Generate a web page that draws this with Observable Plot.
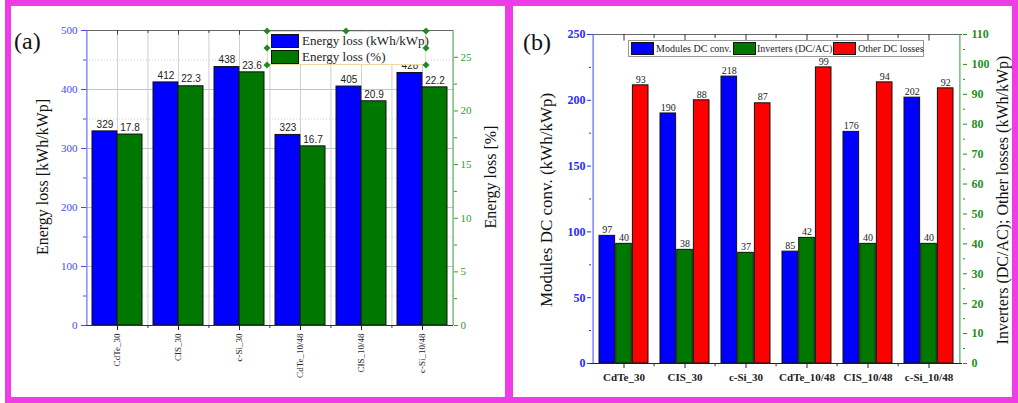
<!DOCTYPE html>
<html><head><meta charset="utf-8">
<script src="https://cdn.jsdelivr.net/npm/d3@7"></script>
<script src="https://cdn.jsdelivr.net/npm/@observablehq/plot@0.6"></script>
<style>
body{margin:0;background:#fff;}
#page{position:relative;width:1018px;height:403px;overflow:hidden;font-family:"Liberation Serif","DejaVu Serif",serif;background:#fff;}
.panel{position:absolute;border:6px solid #f03ce6;box-sizing:border-box;pointer-events:none;z-index:5;}
.chart{position:absolute;top:0;}
.lbl{position:absolute;white-space:nowrap;transform:translate(-50%,-50%) rotate(-90deg);transform-origin:center;color:#111;z-index:3;font-family:"Liberation Serif",serif;}
.tag{position:absolute;font-size:24px;color:#111;z-index:3;font-family:"Liberation Serif",serif;}
.legend{position:absolute;background:#fff;z-index:4;box-sizing:border-box;}
.sw{position:absolute;border:1px solid #111;box-sizing:border-box;}
.lt{position:absolute;white-space:nowrap;color:#222;font-family:"Liberation Serif",serif;}
.h{position:absolute;width:5px;height:5px;background:#1f8a1f;transform:translate(-50%,-50%) rotate(45deg);}
</style>
</head><body>
<div id="page"></div>
<script>
// ---------- data: panel (a) ----------
const catsA = ["CdTe_30","CIS_30","c-Si_30","CdTe_10/48","CIS_10/48","c-Si_10/48"];
const lossKwh = [329,412,438,323,405,428];
const lossPct = [17.8,22.3,23.6,16.7,20.9,22.2];
const leftTicksA = [0,100,200,300,400,500];
const leftMinorA = [50,150,250,350,450];
const rightTicksA = [0,5,10,15,20,25];
const rightMinorA = [2.5,7.5,12.5,17.5,22.5];
const seriesA = ["Energy loss (kWh/kWp)","Energy loss (%)"];

// ---------- data: panel (b) ----------
const catsB = ["CdTe_30","CIS_30","c-Si_30","CdTe_10/48","CIS_10/48","c-Si_10/48"];
const modulesDC = [97,190,218,85,176,202];
const inverters = [40,38,37,42,40,40];
const otherDC = [93,88,87,99,94,92];
const leftTicksB = [0,50,100,150,200,250];
const leftMinorB = [25,75,125,175,225];
const rightTicksB = [0,10,20,30,40,50,60,70,80,90,100,110];
const rightMinorB = [5,15,25,35,45,55,65,75,85,95,105];
const seriesB = ["Modules DC conv.","Inverters (DC/AC)","Other DC losses"];

const BLUE="#0000ff", GREEN="#007800", RED="#ff0000";
const SERIF='"Liberation Serif", "DejaVu Serif", serif';
const SANS='"Liberation Sans", Arial, sans-serif';
const page = document.getElementById("page");

function place(el, left){ el.classList.add("chart"); el.style.left = left+"px"; page.appendChild(el); }

// ---------- panel (a) ----------
{
  const W=505,H=400,mL=86,mR=52,mT=30,mB=75, yMax=500, y2Max=27.5, pi=0.18, po=0.09;
  const n=catsA.length;
  const step=(W-mL-mR)/(n-pi+2*po), bw=step*(1-pi), edge=po*step+bw/2;
  const to = v => v*yMax/y2Max;
  const rows = catsA.map((c,i)=>({cat:c,kwh:lossKwh[i],pct:lossPct[i]}));
  const mids = catsA.slice(1);
  const ax = {fontFamily:SERIF, label:null};
  const svg = Plot.plot({
    width:W, height:H, marginLeft:mL, marginRight:mR, marginTop:mT, marginBottom:mB,
    style:{background:"transparent", fontFamily:SERIF, overflow:"visible"},
    x:{type:"band", domain:catsA, paddingInner:pi, paddingOuter:po, axis:null},
    y:{domain:[0,yMax], axis:null},
    marks:[
      Plot.gridY(leftMinorA,{stroke:"#d0d0d0", strokeOpacity:1, strokeDasharray:"1,2"}),
      Plot.gridY(leftTicksA.slice(1,-1),{stroke:"#c4c4c4", strokeOpacity:1}),
      Plot.ruleX(catsA,{x:d=>d, stroke:"#cfcfcf"}),
      Plot.ruleX(mids,{x:d=>d, dx:-step/2, stroke:"#cfcfcf"}),
      Plot.barY(rows,{x:"cat", y:"kwh", fill:BLUE, stroke:"#111", strokeWidth:1, insetRight:bw/2}),
      Plot.barY(rows,{x:"cat", y:d=>to(d.pct), fill:GREEN, stroke:"#111", strokeWidth:1, insetLeft:bw/2}),
      Plot.text(rows,{x:"cat", y:"kwh", text:d=>String(d.kwh), dx:-bw/4, dy:-7, fontSize:10, fontFamily:SANS, fill:"#222"}),
      Plot.text(rows,{x:"cat", y:d=>to(d.pct), text:d=>d.pct.toFixed(1), dx:bw/4, dy:-7, fontSize:10, fontFamily:SANS, fill:"#222"}),
      // frame lines
      Plot.ruleY([yMax],{stroke:"#666"}),
      Plot.ruleY([0],{stroke:"#333"}),
      Plot.ruleX([catsA[0]],{x:d=>d, dx:-edge, stroke:"#5050ff"}),
      Plot.ruleX([catsA[n-1]],{x:d=>d, dx:edge, stroke:"#3a9a3a"}),
      // top inner ticks
      Plot.ruleX(catsA,{x:d=>d, y1:yMax, y2:yMax-8, stroke:"#444"}),
      Plot.ruleX(mids,{x:d=>d, dx:-step/2, y1:yMax, y2:yMax-5, stroke:"#444"}),
      // bottom minor ticks
      Plot.ruleX(mids,{x:d=>d, dx:-step/2, y1:0, y2:-5, stroke:"#333"}),
      Plot.axisX({...ax, anchor:"bottom", tickSize:5, tickPadding:3, tickRotate:-90, fontSize:9, color:"#222"}),
      Plot.axisY({...ax, ticks:leftTicksA, anchor:"left", tickSize:5, tickPadding:4, fontSize:11, color:"#4646ff"}),
      Plot.axisY({...ax, ticks:leftMinorA, anchor:"left", tickSize:3, tickFormat:()=>"", color:"#4646ff"}),
      Plot.axisY({...ax, ticks:rightTicksA.map(to), anchor:"right", tickSize:4, tickPadding:3, fontSize:11, color:"#2f9a2f",
        tickFormat:d=>String(Math.round(d*y2Max/yMax))}),
      Plot.axisY({...ax, ticks:rightMinorA.map(to), anchor:"right", tickSize:3, tickFormat:()=>"", color:"#2f9a2f"})
    ]
  });
  place(svg, 0);
}

// ---------- panel (b) ----------
{
  const left=508, W=510,H=400,mL=83,mR=56,mT=34,mB=37, yMax=250, y2Max=110, pi=0.19, po=0.095;
  const n=catsB.length;
  const step=(W-mL-mR)/(n-pi+2*po), bw=step*(1-pi), edge=po*step+bw/2;
  const to = v => v*yMax/y2Max;
  const rows = catsB.map((c,i)=>({cat:c,mod:modulesDC[i],inv:inverters[i],oth:otherDC[i]}));
  const mids = catsB.slice(1);
  const ax = {fontFamily:SERIF, label:null};
  const lab = {fontSize:10, fontFamily:SERIF, fill:"#222", dy:-6};
  const svg = Plot.plot({
    width:W, height:H, marginLeft:mL, marginRight:mR, marginTop:mT, marginBottom:mB,
    style:{background:"transparent", fontFamily:SERIF, overflow:"visible"},
    x:{type:"band", domain:catsB, paddingInner:pi, paddingOuter:po, axis:null},
    y:{domain:[0,yMax], axis:null},
    marks:[
      Plot.barY(rows,{x:"cat", y:"mod", fill:BLUE, stroke:"#111", strokeWidth:1, insetRight:2*bw/3}),
      Plot.barY(rows,{x:"cat", y:d=>to(d.inv), fill:GREEN, stroke:"#111", strokeWidth:1, insetLeft:bw/3, insetRight:bw/3}),
      Plot.barY(rows,{x:"cat", y:d=>to(d.oth), fill:RED, stroke:"#111", strokeWidth:1, insetLeft:2*bw/3}),
      Plot.text(rows,{x:"cat", y:"mod", text:d=>String(d.mod), dx:-bw/3, ...lab}),
      Plot.text(rows,{x:"cat", y:d=>to(d.inv), text:d=>String(d.inv), ...lab}),
      Plot.text(rows,{x:"cat", y:d=>to(d.oth), text:d=>String(d.oth), dx:bw/3, ...lab}),
      Plot.ruleY([yMax],{stroke:"#666"}),
      Plot.ruleY([0],{stroke:"#222"}),
      Plot.ruleX([catsB[0]],{x:d=>d, dx:-edge, stroke:"#4040ff"}),
      Plot.ruleX([catsB[n-1]],{x:d=>d, dx:edge, stroke:"#2f9a2f"}),
      Plot.ruleX(catsB,{x:d=>d, y1:yMax, y2:yMax-5, stroke:"#333"}),
      Plot.ruleX(mids,{x:d=>d, dx:-step/2, y1:yMax, y2:yMax-3, stroke:"#333"}),
      Plot.ruleX(mids,{x:d=>d, dx:-step/2, y1:0, y2:-2.5, stroke:"#333"}),
      Plot.axisX({...ax, anchor:"bottom", tickSize:5, tickPadding:5, fontSize:11, fontWeight:"bold", color:"#222"}),
      Plot.axisY({...ax, ticks:leftTicksB, anchor:"left", tickSize:4, tickPadding:2, fontSize:12, fontWeight:"bold", color:"#2a2aff"}),
      Plot.axisY({...ax, ticks:leftMinorB, anchor:"left", tickSize:2, tickFormat:()=>"", color:"#2a2aff"}),
      Plot.axisY({...ax, ticks:rightTicksB.map(to), anchor:"right", tickSize:4, tickPadding:5, fontSize:12, fontWeight:"bold", color:"#1f8f1f",
        tickFormat:d=>String(Math.round(d*y2Max/yMax))}),
      Plot.axisY({...ax, ticks:rightMinorB.map(to), anchor:"right", tickSize:2, tickFormat:()=>"", color:"#1f8f1f"})
    ]
  });
  place(svg, left);
}

// ---------- html overlays ----------
function add(cls, css, text){ const d=document.createElement("div"); d.className=cls; Object.assign(d.style, css); if(text!=null) d.textContent=text; return d; }
page.appendChild(add("panel",{left:"5px",top:"0px",width:"506px",height:"403px"}));
page.appendChild(add("panel",{left:"507px",top:"0px",width:"511px",height:"403px"}));
page.appendChild(add("tag",{left:"14px",top:"28px"},"(a)"));
page.appendChild(add("tag",{left:"523px",top:"29px"},"(b)"));
page.appendChild(add("lbl",{left:"43px",top:"177px",fontSize:"16px"},"Energy loss [kWh/kWp]"));
page.appendChild(add("lbl",{left:"491px",top:"177px",fontSize:"16px"},"Energy loss [%]"));
page.appendChild(add("lbl",{left:"547px",top:"200px",fontSize:"17px"},"Modules DC conv. (kWh/kWp)"));
page.appendChild(add("lbl",{left:"1003px",top:"200px",fontSize:"16px"},"Inverters (DC/AC); Other losses (kWh/kWp)"));

// legend (a)
{
  const lg = add("legend",{left:"267px",top:"31px",width:"159px",height:"34px",border:"1px solid #f0d8a8"});
  const cols=[BLUE,GREEN];
  seriesA.forEach((s,i)=>{
    lg.appendChild(add("sw",{left:"3px",top:(2+i*16)+"px",width:"28px",height:"14px",background:cols[i]}));
    lg.appendChild(add("lt",{left:"34px",top:(i*16)+"px",fontSize:"13px",lineHeight:"17px"},s));
  });
  page.appendChild(lg);
  [[267,31],[346,31],[426,31],[267,48],[426,48],[267,65],[426,65]].forEach(([x,y])=>{
    const hd=add("h",{left:x+"px",top:y+"px",zIndex:4}); page.appendChild(hd);
  });
}
// legend (b)
{
  const lg = add("legend",{left:"628px",top:"40px",width:"296px",height:"17px",border:"1px solid #999"});
  const cols=[BLUE,GREEN,RED];
  const sx=[2,104,204], tx=[27,128,229];
  seriesB.forEach((s,i)=>{
    lg.appendChild(add("sw",{left:sx[i]+"px",top:"1px",width:"23px",height:"13px",background:cols[i]}));
    lg.appendChild(add("lt",{left:tx[i]+"px",top:"0px",fontSize:"10px",lineHeight:"15px"},s));
  });
  page.appendChild(lg);
}
</script>
</body></html>
